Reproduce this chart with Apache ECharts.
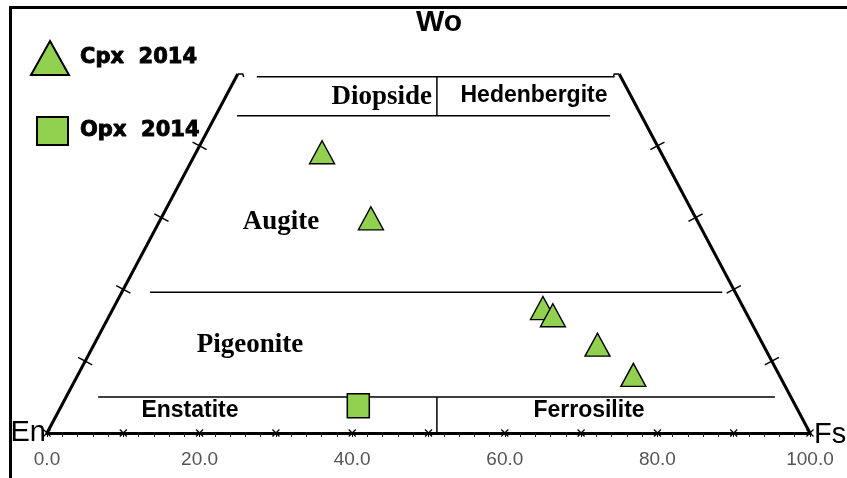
<!DOCTYPE html>
<html>
<head>
<meta charset="utf-8">
<script src="https://cdn.jsdelivr.net/npm/echarts@6/dist/echarts.min.js"></script>
<style>
html,body{margin:0;padding:0;background:#fff;}
#chart{width:847px;height:478px;}
</style>
</head>
<body>
<div id="chart"></div>
<script>
// ---- data (pyroxene quadrilateral, Wo / Fs in mol %) ----
const cpxWo = [39.1, 29.9, 17.4, 16.4, 12.3, 8.1];
const cpxFs = [16.5, 27.5, 56.3, 58.1, 66.0, 72.8];
const opxWo = [3.8];
const opxFs = [38.9];
const edgeTicksWo = [10, 20, 30, 40];
const bottomMarks = [0, 10, 20, 30, 40, 50, 60, 70, 80, 90, 100];
const tickLabels = ['0.0', '20.0', '40.0', '60.0', '80.0', '100.0'];
// field boundaries: [x1, Wo1, x2, Wo2] in projected units
const boundaries = [
  [27.5, 49.6, 74.4, 49.6],
  [24.9, 44.2, 73.8, 44.2],
  [13.5, 19.6, 88.5, 19.6],
  [6.7, 5.0, 95.4, 5.0],
  [51.1, 49.6, 51.1, 44.2],
  [51.1, 5.0, 51.1, 0]
];
const edges = [
  [0, 0, 25, 50],
  [100, 0, 75, 50]
];

// ternary projection: x = Fs + Wo/2, y = Wo
function proj(wo, fs) { return wo.map((w, i) => [fs[i] + w / 2, w]); }

const chart = echarts.init(document.getElementById('chart'), null, {renderer: 'canvas'});

const lineSeries = (data, width) => ({
  type: 'custom', clip: false, silent: true, z: 3,
  data: data,
  renderItem: function (params, api) {
    const p1 = api.coord([api.value(0), api.value(1)]);
    const p2 = api.coord([api.value(2), api.value(3)]);
    return {type: 'line', shape: {x1: p1[0], y1: p1[1], x2: p2[0], y2: p2[1]},
      style: {stroke: '#000', lineWidth: width}};
  }
});

const legendText = {fontFamily: 'DejaVu Sans', fontWeight: 'bold', fontSize: 21, color: '#000',
  textBorderColor: '#000', textBorderWidth: 0.9};

const option = {
  animation: false,
  backgroundColor: '#fff',
  grid: {left: 47, right: 37, top: 74, bottom: 45},
  xAxis: {
    type: 'value', min: 0, max: 100, interval: 10,
    axisLine: {show: true, lineStyle: {color: '#000', width: 3}},
    axisTick: {show: true, length: 4, lineStyle: {color: '#000', width: 1}},
    minorTick: {show: true, splitNumber: 5, length: 4, lineStyle: {color: '#222', width: 1}},
    splitLine: {show: false},
    axisLabel: {
      margin: 17, fontSize: 19, color: '#555', fontFamily: 'Liberation Sans',
      formatter: v => (v % 20 === 0 ? tickLabels[v / 20] : '')
    }
  },
  yAxis: {type: 'value', min: 0, max: 50, show: false},
  legend: [
    {data: [{name: 'Cpx 2014', icon: 'triangle'}], left: 25, top: 35, itemWidth: 38, itemHeight: 34,
      formatter: n => n.replace(' ', '  '),
      textStyle: Object.assign({padding: [0, 0, 0, 6]}, legendText)},
    {data: [{name: 'Opx 2014', icon: 'rect'}], left: 31, top: 111, itemWidth: 31, itemHeight: 28,
      formatter: n => n.replace(' ', '  '),
      textStyle: Object.assign({padding: [0, 0, 0, 7]}, legendText)}
  ],
  graphic: [
    {type: 'rect', shape: {x: 10.5, y: 7.5, width: 900, height: 520}, style: {fill: 'none', stroke: '#000', lineWidth: 3}, z: 10},
    {type: 'text', x: 439, y: 23, z: 0, style: {text: 'Wo', font: 'bold 30px "Liberation Sans"', fill: '#000', textAlign: 'center', textVerticalAlign: 'middle'}},
    {type: 'text', x: 46, y: 433, z: 0, style: {text: 'En', font: '29px "Liberation Sans"', fill: '#000', textAlign: 'right', textVerticalAlign: 'middle'}},
    {type: 'text', x: 814, y: 435, z: 0, style: {text: 'Fs', font: '29px "Liberation Sans"', fill: '#000', textAlign: 'left', textVerticalAlign: 'middle'}},
    {type: 'text', x: 432, y: 97, style: {text: 'Diopside', font: 'bold 27px "Liberation Serif"', fill: '#000', textAlign: 'right', textVerticalAlign: 'middle'}},
    {type: 'text', x: 534, y: 96, style: {text: 'Hedenbergite', font: 'bold 23px "Liberation Sans"', fill: '#000', textAlign: 'center', textVerticalAlign: 'middle'}},
    {type: 'text', x: 281, y: 222, style: {text: 'Augite', font: 'bold 27px "Liberation Serif"', fill: '#000', textAlign: 'center', textVerticalAlign: 'middle'}},
    {type: 'text', x: 250, y: 345, style: {text: 'Pigeonite', font: 'bold 27px "Liberation Serif"', fill: '#000', textAlign: 'center', textVerticalAlign: 'middle'}},
    {type: 'text', x: 190, y: 411, style: {text: 'Enstatite', font: 'bold 23px "Liberation Sans"', fill: '#000', textAlign: 'center', textVerticalAlign: 'middle'}},
    {type: 'text', x: 589, y: 411, style: {text: 'Ferrosilite', font: 'bold 23px "Liberation Sans"', fill: '#000', textAlign: 'center', textVerticalAlign: 'middle'}}
  ],
  series: [
    lineSeries(boundaries, 1.5),
    lineSeries(edges, 3),
    {
      // apex hooks
      type: 'custom', clip: false, silent: true, z: 3,
      data: [[25, 50, 1], [75, 50, -1]],
      renderItem: function (params, api) {
        const p = api.coord([api.value(0), api.value(1)]);
        const d = api.value(2);
        return {type: 'polyline', shape: {points: [[p[0], p[1]], [p[0] + 5 * d, p[1]], [p[0] + 6 * d, p[1] + 3]]},
          style: {stroke: '#000', lineWidth: 1.5, fill: null}};
      }
    },
    {
      // ticks across the slanted edges
      type: 'custom', clip: false, silent: true, z: 3,
      data: edgeTicksWo.flatMap(w => [[w / 2, w, 1], [100 - w / 2, w, -1]]),
      renderItem: function (params, api) {
        const p = api.coord([api.value(0), api.value(1)]);
        const side = api.value(2);
        const top = api.coord([side > 0 ? 25 : 75, 50]);
        const base = api.coord([side > 0 ? 0 : 100, 0]);
        let dx = top[0] - base[0], dy = top[1] - base[1];
        const n = Math.hypot(dx, dy); dx /= n; dy /= n;
        const px = -dy, py = dx, h = 8;
        return {type: 'line', shape: {x1: p[0] - px * h, y1: p[1] - py * h, x2: p[0] + px * h, y2: p[1] + py * h},
          style: {stroke: '#000', lineWidth: 1.5}};
      }
    },
    {
      // x-marks along the En-Fs axis
      type: 'custom', clip: false, silent: true, z: 4,
      data: bottomMarks.map(v => [v, 0]),
      renderItem: function (params, api) {
        const p = api.coord([api.value(0), api.value(1)]);
        const s = 3.5;
        return {type: 'group', children: [
          {type: 'line', shape: {x1: p[0] - s, y1: p[1] - s, x2: p[0] + s, y2: p[1] + s}, style: {stroke: '#000', lineWidth: 1.3}},
          {type: 'line', shape: {x1: p[0] - s, y1: p[1] + s, x2: p[0] + s, y2: p[1] - s}, style: {stroke: '#000', lineWidth: 1.3}}
        ]};
      }
    },
    {
      name: 'Cpx 2014', type: 'scatter', symbol: 'triangle', symbolSize: [25, 23], z: 5,
      itemStyle: {color: '#92D050', borderColor: '#000', borderWidth: 1.4, opacity: 1},
      data: proj(cpxWo, cpxFs)
    },
    {
      name: 'Opx 2014', type: 'scatter', symbol: 'rect', symbolSize: [22, 24], z: 5,
      itemStyle: {color: '#92D050', borderColor: '#000', borderWidth: 1.6, opacity: 1},
      data: proj(opxWo, opxFs)
    }
  ]
};
chart.setOption(option);
</script>
</body>
</html>
